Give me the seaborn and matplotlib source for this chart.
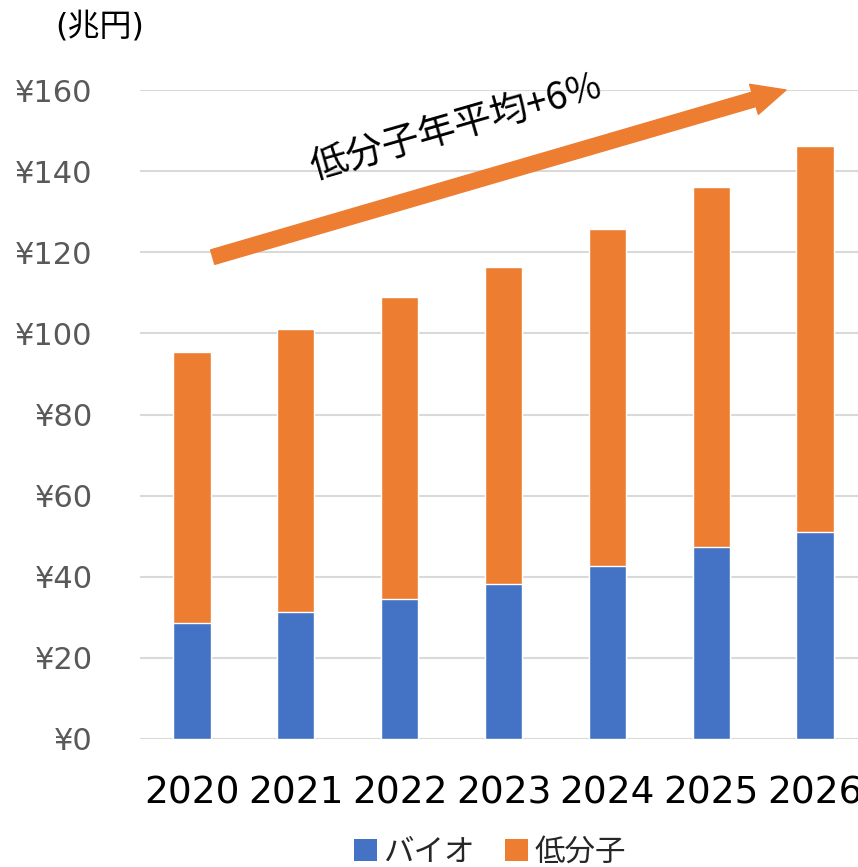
import matplotlib
matplotlib.use("Agg")
import matplotlib.pyplot as plt
import seaborn as sns
import pandas as pd
from matplotlib.patches import Patch

# Market size by modality (trillion yen)
years = ["2020", "2021", "2022", "2023", "2024", "2025", "2026"]
bio = [28.5, 31.3, 34.6, 38.3, 42.6, 47.4, 51.1]
small_molecule = [66.8, 69.9, 74.3, 78.0, 83.1, 88.6, 95.2]
series_names = ["バイオ", "低分子"]
y_ticks = [0, 20, 40, 60, 80, 100, 120, 140, 160]
y_tick_labels = [f"¥{v}" for v in y_ticks]
unit_label = "(兆円)"
trend_label = "低分子年平均+6%"

BLUE = "#4472C4"
ORANGE = "#ED7D31"
MIXED = ["DejaVu Sans", "Noto Sans CJK JP"]
JP = ["Noto Sans CJK JP", "DejaVu Sans"]

sns.set_theme(style="white")
plt.rcParams["font.family"] = MIXED

df = pd.DataFrame({
    "year": years,
    "bio": bio,
    "total": [b + s for b, s in zip(bio, small_molecule)],
})

fig = plt.figure(figsize=(8.58, 8.67), dpi=100)
ax = fig.add_axes([140 / 858, 128 / 867, 727 / 858, 649 / 867])

# Stacked bars: full total in orange, the bio portion drawn over it in blue
sns.barplot(data=df, x="year", y="total", color=ORANGE, width=0.36,
            saturation=1, ax=ax, zorder=3)
sns.barplot(data=df, x="year", y="bio", color=BLUE, width=0.36,
            saturation=1, ax=ax, zorder=4)

ax.set_ylim(0, 160)
ax.set_xlim(-0.5, 6.5)
ax.set_yticks(y_ticks)
ax.set_yticklabels(y_tick_labels)
ax.set_xlabel("")
ax.set_ylabel("")
ax.yaxis.grid(True, color="#D9D9D9", linewidth=1.5, zorder=0)
ax.set_axisbelow(True)
for s in ax.spines.values():
    s.set_visible(False)
ax.tick_params(axis="y", length=0, pad=34, labelsize=22, labelcolor="#595959")
ax.tick_params(axis="x", length=0, pad=26, labelsize=27, labelcolor="black")

# Unit label above the y axis
fig.text(100 / 858, 1 - 27 / 867, unit_label, ha="center", va="center",
         fontsize=23, color="black", family=MIXED)

# Growth trend arrow with its caption
ax.annotate("", xy=(5.72, 160), xytext=(0.2, 118.8),
            arrowprops=dict(arrowstyle="simple,head_length=0.8,head_width=0.75,tail_width=0.36",
                            mutation_scale=30, color=ORANGE, shrinkA=0, shrinkB=0),
            annotation_clip=False, zorder=5)
ax.text(2.55, 150.5, trend_label, rotation=16, rotation_mode="anchor",
        ha="center", va="center", fontsize=27, color="black", family=JP,
        clip_on=False, zorder=6)

handles = [Patch(facecolor=BLUE, edgecolor="none"), Patch(facecolor=ORANGE, edgecolor="none")]
fig.legend(handles, series_names, loc="center", bbox_to_anchor=(0.571, 1 - 852 / 867),
           ncol=2, frameon=False, prop={"family": JP, "size": 22},
           handlelength=0.75, handleheight=0.75, handletextpad=0.2, columnspacing=1.0)

fig.savefig("out.png", dpi=100)
